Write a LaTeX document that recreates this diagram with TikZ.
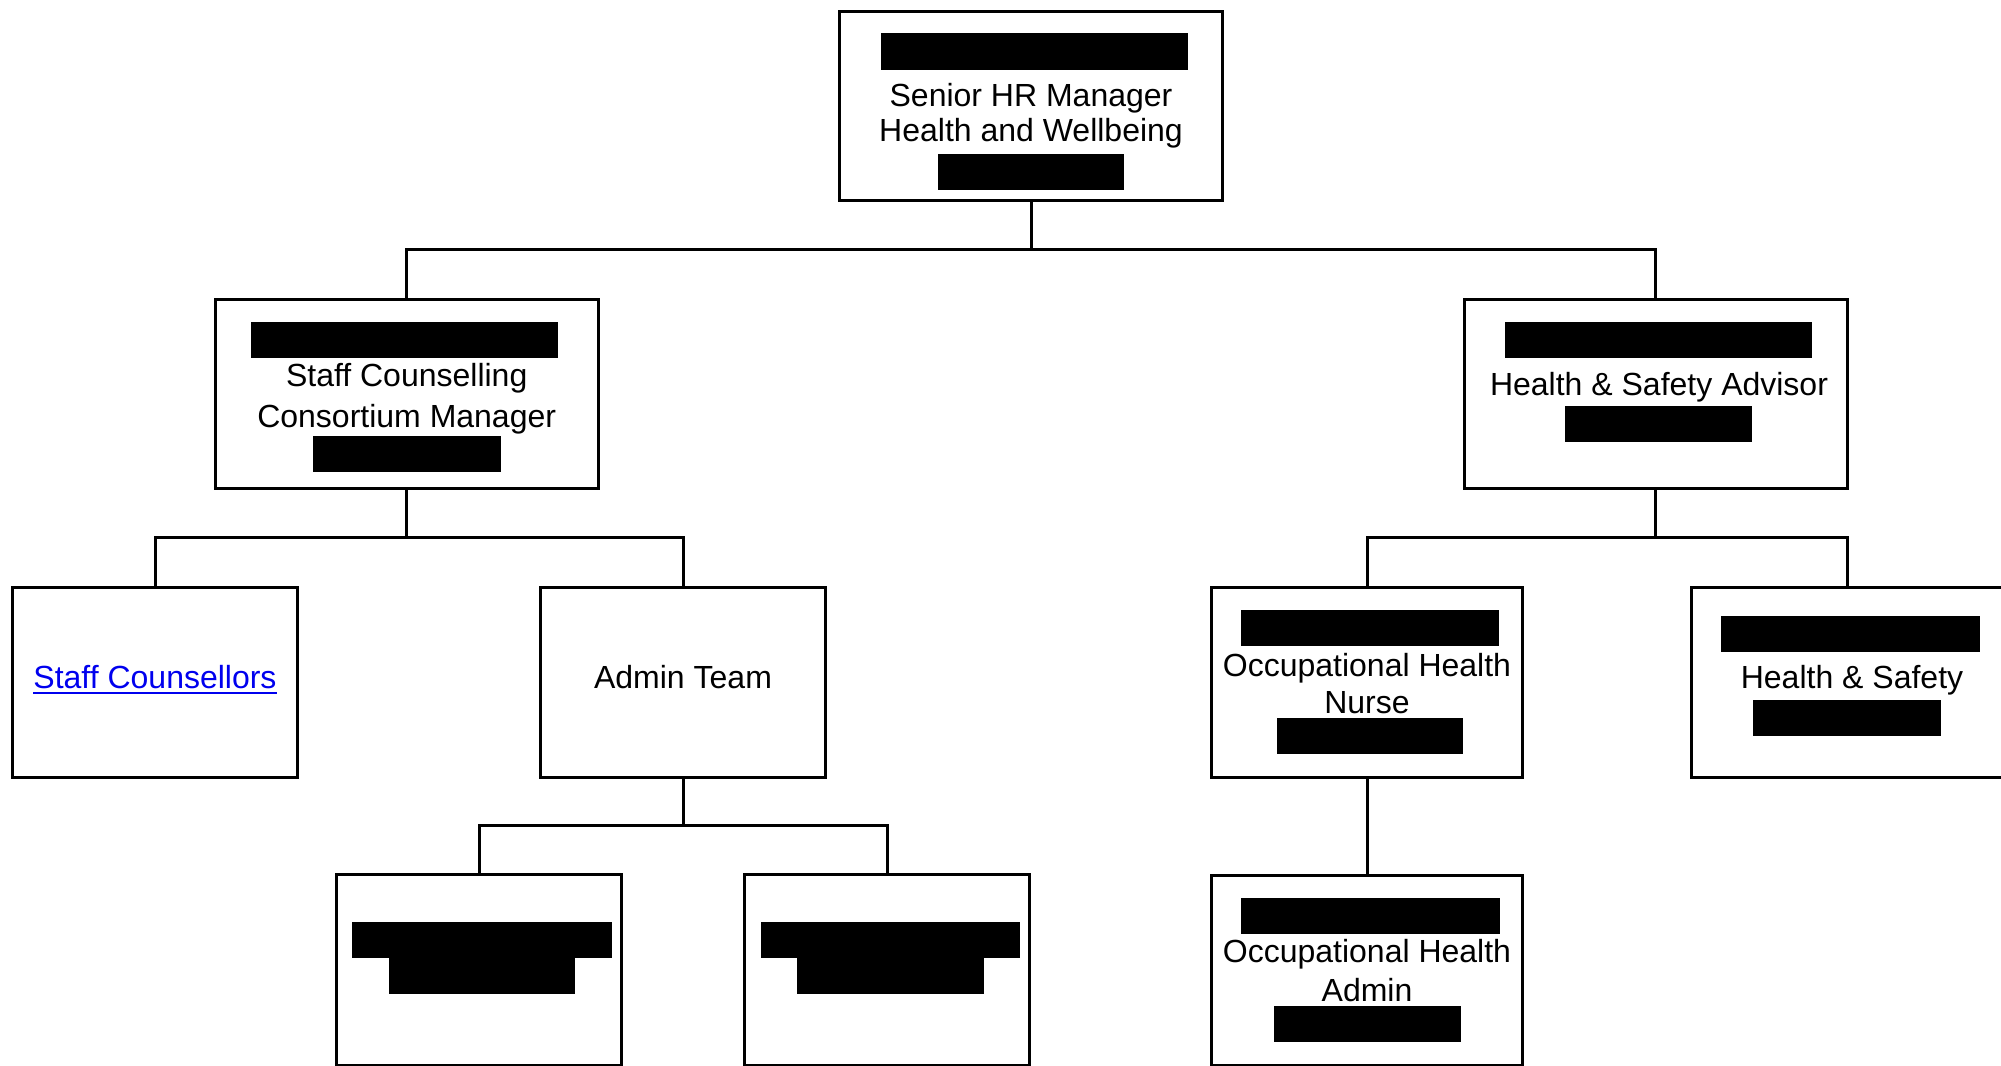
\documentclass[tikz,border=0pt]{standalone}
\usepackage{fontspec}
\setmainfont{Liberation Sans}
\definecolor{linkblue}{RGB}{0,0,238}
\begin{document}
\begin{tikzpicture}[x=0.5pt,y=-0.5pt,
  box/.style={draw, rectangle, line width=1.5pt, inner sep=0pt},
  bigbox/.style={box, minimum width=191.5pt, minimum height=94.3pt},
  smallbox/.style={box, minimum width=142.8pt, minimum height=95.2pt},
  ohbox/.style={box, minimum width=155.3pt, minimum height=95.2pt},
  lbl/.style={anchor=base, inner sep=0pt, font=\fontsize{16}{19}\selectfont},
  conn/.style={line width=1.5pt},
  redact/.style={fill=black}]
\useasboundingbox (0,0) rectangle (2001,1065);
\clip (0,0) rectangle (2001,1065);

% boxes
\node[bigbox] (top) at (1031,105.9) {};
\node[bigbox] (scm) at (406.7,393.7) {};
\node[bigbox] (hsa) at (1655.5,394) {};
\node[smallbox] (sc) at (155,682.4) {};
\node[smallbox] (admin) at (683,682.4) {};
\node[smallbox] (a1) at (479,970) {};
\node[smallbox] (a2) at (887,970) {};
\node[ohbox] (ohn) at (1367,682.4) {};
\node[ohbox] (hs) at (1847,682.4) {};
\node[ohbox] (oha) at (1367,970.5) {};

% texts
\node[lbl] (t1a) at (1031,106.7) {Senior HR Manager};
\node[lbl] (t1b) at (1031,141) {Health and Wellbeing};
\node[lbl] (t2a) at (406.7,386) {Staff Counselling};
\node[lbl] (t2b) at (406.7,427) {Consortium Manager};
\node[lbl] (t3a) at (1659,395) {Health \& Safety Advisor};
\node[lbl, text=linkblue] (t4a) at (155,688.5) {Staff Counsellors};
\draw[linkblue, line width=1pt] ([yshift=-2.2pt]t4a.base west) -- ([yshift=-2.2pt]t4a.base east);
\node[lbl] (t5a) at (683,688.5) {Admin Team};
\node[lbl] (t6a) at (1367,676) {Occupational Health};
\node[lbl] (t6b) at (1367,713.5) {Nurse};
\node[lbl] (t7a) at (1852,688) {Health \& Safety};
\node[lbl] (t8a) at (1367,962) {Occupational Health};
\node[lbl] (t8b) at (1367,1001) {Admin};

% redaction bars
\fill[redact] (880.7,33.3) rectangle (1187.7,70);
\fill[redact] (937.7,154) rectangle (1124.3,190);
\fill[redact] (250.7,321.7) rectangle (557.7,358.3);
\fill[redact] (313.3,435.7) rectangle (500.7,472.3);
\fill[redact] (1505,321.7) rectangle (1811.7,358.3);
\fill[redact] (1565,405.7) rectangle (1751.7,442.3);
\fill[redact] (1241.3,610) rectangle (1499.4,646);
\fill[redact] (1276.9,717.7) rectangle (1463.2,754);
\fill[redact] (1720.8,615.7) rectangle (1980,652.3);
\fill[redact] (1753.3,699.7) rectangle (1940.7,736.3);
\fill[redact] (1240.7,897.7) rectangle (1500,934);
\fill[redact] (1274,1005.7) rectangle (1461,1042.3);
\fill[redact] (352.4,921.7) rectangle (611.7,958.3);
\fill[redact] (388.7,958.3) rectangle (575.3,994.3);
\fill[redact] (760.5,921.7) rectangle (1019.8,958.3);
\fill[redact] (796.8,958.3) rectangle (983.5,994.3);

% connectors
\coordinate (b1) at (1031,249);
\draw[conn] (top.south) -- (b1);
\draw[conn] (scm.north) |- (b1) -| (hsa.north);

\coordinate (b2) at (406.7,537.3);
\draw[conn] (scm.south) -- (b2);
\draw[conn] (sc.north) |- (b2) -| (admin.north);

\coordinate (b3) at (683,825.7);
\draw[conn] (admin.south) -- (b3);
\draw[conn] (a1.north) |- (b3) -| (a2.north);

\coordinate (b4) at (1655.5,537.3);
\draw[conn] (hsa.south) -- (b4);
\draw[conn] (ohn.north) |- (b4) -| (hs.north);

\draw[conn] (ohn.south) -- (oha.north);
\end{tikzpicture}
\end{document}
